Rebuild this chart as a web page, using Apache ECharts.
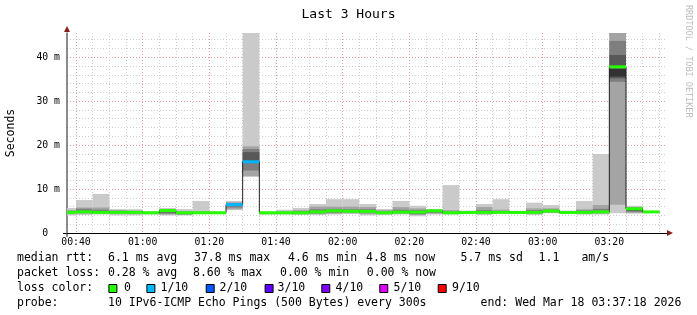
<!DOCTYPE html>
<html><head><meta charset="utf-8">
<script src="https://cdn.jsdelivr.net/npm/echarts@6/dist/echarts.min.js"></script>
<style>html,body{margin:0;padding:0;background:#fff}#c{width:697px;height:315px}</style>
</head><body><div id="c"></div>
<script>
// ---- data (times are bin END times, each bin = one 300 s probe step) ----
const graphStart = '00:37:18';
const graphEnd = '03:37:18';
const stepMinutes = 5;
const binEnd = ['00:40','00:45','00:50','00:55','01:00','01:05','01:10','01:15','01:20','01:25','01:30','01:35',
  '01:40','01:45','01:50','01:55','02:00','02:05','02:10','02:15','02:20','02:25','02:30','02:35',
  '02:40','02:45','02:50','02:55','03:00','03:05','03:10','03:15','03:20','03:25','03:30','03:35'];
// sorted ping RTTs (ms) per bin, rank 1 (fastest) .. rank 10 (slowest)
const ping1  = [4.0,4.1,4.2,4.0,4.0,4.2,4.0,4.0,4.3,4.4,5.2,12.8,4.2,4.2,4.1,4.1,4.2,4.3,4.0,4.1,4.2,3.8,4.2,4.2,4.4,4.1,4.3,4.4,4.1,4.5,4.4,4.2,4.2,4.5,4.4,4.6];
const ping2  = [4.3,4.4,4.4,4.3,4.3,4.35,4.2,4.1,4.4,4.5,5.4,12.9,4.3,4.3,4.3,4.3,4.4,4.5,4.3,4.3,4.4,4.1,4.4,4.3,4.5,4.3,4.4,4.5,4.3,4.6,4.5,4.3,4.4,6.4,4.6,4.65];
const ping3  = [4.5,4.6,4.5,4.5,4.5,4.45,4.4,4.3,4.5,4.55,5.8,14.2,4.4,4.35,4.4,4.5,4.6,4.7,4.5,4.4,4.5,4.3,4.6,4.4,4.55,4.45,4.5,4.55,4.45,4.75,4.55,4.45,4.55,34.4,4.8,4.7];
const ping4  = [4.6,4.7,4.6,4.6,4.6,4.5,4.7,4.4,4.55,4.6,6.2,15.9,4.45,4.4,4.5,4.6,4.8,4.8,4.7,4.5,4.6,4.5,4.8,4.5,4.6,4.55,4.6,4.6,4.55,4.85,4.6,4.55,4.65,35.2,5.0,4.72];
const ping5  = [4.65,4.75,4.65,4.65,4.65,4.55,5.0,4.5,4.6,4.6,6.4,16.05,4.55,4.5,4.55,4.75,5.0,4.9,4.85,4.55,4.7,4.7,5.0,4.55,4.65,4.65,4.65,4.65,4.65,4.95,4.65,4.65,4.75,35.6,5.3,4.75];
const ping6  = [4.75,4.85,4.75,4.75,4.7,4.6,5.1,4.6,4.65,4.65,6.5,16.4,4.6,4.6,4.65,4.85,5.1,5.0,4.95,4.65,4.8,4.8,5.1,4.65,4.7,4.75,4.75,4.7,4.75,5.05,4.7,4.75,4.85,37.3,5.5,4.78];
const ping7  = [4.85,5.0,4.9,4.85,4.8,4.65,5.2,4.65,4.7,4.7,6.6,18.4,4.65,4.65,4.75,5.0,5.2,5.1,5.1,4.75,4.9,4.9,5.15,4.75,4.75,4.85,4.85,4.75,4.9,5.15,4.8,4.9,5.0,40.5,5.6,4.8];
const ping8  = [5.0,5.5,5.3,5.0,4.9,4.7,5.3,4.8,4.8,4.75,6.8,19.1,4.7,4.75,4.9,5.4,5.5,5.4,5.4,4.9,5.3,5.2,5.2,4.9,4.85,5.2,5.0,4.85,5.2,5.3,4.9,5.1,5.5,43.7,5.8,4.82];
const ping9  = [5.2,5.8,5.8,5.2,5.1,4.8,5.4,5.0,4.9,4.8,7.0,19.7,4.75,4.9,5.2,6.0,6.0,6.0,5.9,5.2,5.9,5.6,5.3,5.2,4.95,5.9,5.3,4.95,5.6,5.6,5.0,5.4,6.36,48,5.9,4.85];
const ping10 = [5.7,7.5,8.9,5.45,5.4,4.9,5.7,5.45,7.3,4.9,7.3,48,4.85,5.3,5.7,6.6,7.7,7.7,6.6,5.45,7.3,6.2,5.45,10.9,5.1,6.6,7.7,5.07,6.9,6.36,5.1,7.3,17.95,48,6.2,4.9];
const medianRtt = [4.7,4.8,4.7,4.7,4.7,4.6,5.1,4.6,4.6,4.6,6.45,16.2,4.6,4.6,4.6,4.8,5.05,4.95,4.9,4.6,4.75,4.75,5.05,4.6,4.65,4.7,4.7,4.65,4.7,5.0,4.65,4.7,4.8,37.8,5.5,4.8];
const lossTenths = [0,0,0,0,0,0,0,0,0,0,1,1,0,0,0,0,0,0,0,0,0,0,0,0,0,0,0,0,0,0,0,0,0,0,0,0];
const xTickLabels = ['00:40','01:00','01:20','01:40','02:00','02:20','02:40','03:00','03:20'];
const yTickLabels = {0:'0  ', 10:'10 m', 20:'20 m', 30:'30 m', 40:'40 m'};
const yMax = 45.5;
const lossLevels = ['0','1/10','2/10','3/10','4/10','5/10','9/10'];
const lossColors = {0:'#26ff00',1:'#00b8ff',2:'#0059ff',3:'#5e00ff',4:'#7e00ff',5:'#dd00ff',9:'#ff0000'};
const smokeShades = ['#cacaca','#a4a4a4','#7e7e7e','#585858','#323232'];
const legendRows = [
  [['median rtt:',17],['6.1 ms avg',108],['37.8 ms max',194],['4.6 ms min',288],['4.8 ms now',366],['5.7 ms sd',460.5],['1.1',538.6],['am/s',581.4]],
  [['packet loss:',17],['0.28 % avg',108],['8.60 % max',193],['0.00 % min',280],['0.00 % now',366.8]],
  [['loss color:',17]],
  [['probe:',17],['10 IPv6-ICMP Echo Pings (500 Bytes) every 300s',108],['end: Wed Mar 18 03:37:18 2026',480.6]]
];
const lossLegendX = [[108.4,124],[146.4,160.6],[205.7,219.5],[264.6,277.6],[321.3,335.6],[379.3,393.6],[437.7,452]];

// ---- helpers ----
const MONO = "'DejaVu Sans Mono', monospace";
function toMin(s){ const p = s.split(':').map(Number); return p[0]*60 + p[1] + (p[2]||0)/60; }
function lbl(v){ for (const t of xTickLabels) if (Math.abs(toMin(t)-v) < 1e-6) return t; return ''; }
const pings = [ping1,ping2,ping3,ping4,ping5,ping6,ping7,ping8,ping9,ping10];
const data = binEnd.map((t,i)=>[toMin(t)].concat(pings.map(a=>a[i]), [medianRtt[i], lossTenths[i]]));
const xMin = toMin(graphStart), xMax = toMin(graphEnd);

function clipX(x, cs){ return Math.max(cs.x, Math.min(cs.x+cs.width, x)); }
function clipY(y, cs){ return Math.max(cs.y, Math.min(cs.y+cs.height, y)); }

function renderSmoke(params, api){
  const cs = params.coordSys, end = api.value(0), start = end - stepMinutes;
  const xL = api.coord([start,0])[0], xR = api.coord([end,0])[0];
  const children = [];
  for (let k=0;k<5;k++){
    const lo = api.value(1+k), hi = api.value(10-k);
    const yLo = api.coord([end,lo])[1], yHi = api.coord([end,hi])[1];
    const r = echarts.graphic.clipRectByRect({x:xL, y:yHi, width:xR-xL, height:yLo-yHi}, cs);
    if (r) children.push({type:'rect', shape:r, style:{fill:smokeShades[k]}});
  }
  return {type:'group', children};
}
function renderMedian(params, api){
  const cs = params.coordSys, i = params.dataIndex, end = api.value(0), start = end - stepMinutes;
  const xL = clipX(api.coord([start,0])[0], cs), xR = clipX(api.coord([end,0])[0], cs);
  const y = clipY(api.coord([end, api.value(11)])[1], cs);
  const pts = [];
  if (i > 0) pts.push([xL, clipY(api.coord([end, medianRtt[i-1]])[1], cs)]);
  pts.push([xL, y], [xR, y]);
  return {type:'polyline', shape:{points:pts}, style:{stroke:'#202020', lineWidth:1, fill:null}};
}
function renderLoss(params, api){
  const cs = params.coordSys, end = api.value(0), start = end - stepMinutes;
  const xL = clipX(api.coord([start,0])[0], cs), xR = clipX(api.coord([end,0])[0], cs);
  const y = api.coord([end, api.value(11)])[1];
  return {type:'rect', shape:{x:xL, y:y-1.5, width:xR-xL, height:3}, style:{fill:lossColors[api.value(12)]}};
}

// ---- graphics: legend text, swatches, arrows, watermark ----
const graphic = [];
const rowY = [258, 273.3, 288.5, 303.5];
legendRows.forEach((row, r)=> row.forEach(([t,x])=> graphic.push({type:'text', x, y:rowY[r], silent:true,
  style:{text:t, font:'11.5px '+MONO, fill:'#000', textAlign:'left', textVerticalAlign:'middle'}})));
lossLevels.forEach((lv, j)=>{
  const [bx, tx] = lossLegendX[j];
  graphic.push({type:'rect', silent:true, shape:{x:bx+0.5, y:284.5, width:8, height:8}, style:{fill:lossColors[parseInt(lv)], stroke:'#000', lineWidth:1}});
  graphic.push({type:'text', x:tx, y:rowY[2], silent:true, style:{text:lv, font:'11.5px '+MONO, fill:'#000', textAlign:'left', textVerticalAlign:'middle'}});
});
graphic.push({type:'polygon', silent:true, shape:{points:[[667,230],[673,233],[667,236]]}, style:{fill:'#8b1e1e'}});
graphic.push({type:'polygon', silent:true, shape:{points:[[64,32],[67,26],[70,32]]}, style:{fill:'#8b1e1e'}});
graphic.push({type:'line', silent:true, shape:{x1:63, y1:233.5, x2:67, y2:233.5}, style:{stroke:'#000', lineWidth:1}});
graphic.push({type:'line', silent:true, shape:{x1:67, y1:233, x2:67, y2:237}, style:{stroke:'#666', lineWidth:1.5}});
graphic.push({type:'text', x:688, y:5, rotation:-Math.PI/2, silent:true,
  style:{text:'RRDTOOL / TOBI OETIKER', font:'8.5px '+MONO, fill:'#bdbdbd', textAlign:'left', textVerticalAlign:'middle'}});

const chart = echarts.init(document.getElementById('c'), null, {renderer:'canvas', width:697, height:315});
chart.setOption({
  animation:false,
  backgroundColor:'#ffffff',
  title:{text:'Last 3 Hours', left:'center', top:8, padding:0,
    textStyle:{fontFamily:MONO, fontSize:13, fontWeight:'normal', color:'#000'}},
  grid:{left:67, right:30, top:33, bottom:82, containLabel:false, outerBoundsMode:'none'},
  xAxis:{type:'value', min:xMin, max:xMax, splitNumber:9, minInterval:20, maxInterval:20,
    axisLine:{show:true, onZero:false, lineStyle:{color:'#000', width:1}},
    axisTick:{show:false},
    axisLabel:{formatter:lbl, margin:4, fontFamily:MONO, fontSize:9.8, color:'#000', showMinLabel:false, showMaxLabel:false},
    splitLine:{show:true, showMinLine:false, showMaxLine:false, lineStyle:{color:'#e59a9a', type:[1,2], width:1}},
    minorTick:{show:false, splitNumber:4},
    minorSplitLine:{show:true, lineStyle:{color:'#cfcfcf', type:[1,2], width:1}}},
  yAxis:{type:'value', min:0, max:yMax, interval:10,
    axisLine:{show:true, onZero:false, lineStyle:{color:'#666', width:1.5}},
    axisTick:{show:false},
    axisLabel:{formatter:v=>yTickLabels[v]!==undefined?yTickLabels[v]:'', margin:7, fontFamily:MONO, fontSize:9.8, color:'#000', showMaxLabel:false},
    splitLine:{show:true, showMinLine:false, showMaxLine:false, lineStyle:{color:'#e59a9a', type:[1,2], width:1}},
    minorTick:{show:false, splitNumber:5},
    minorSplitLine:{show:true, lineStyle:{color:'#cfcfcf', type:[1,2], width:1}},
    name:'Seconds', nameLocation:'middle', nameGap:49.5, nameRotate:90,
    nameTextStyle:{fontFamily:MONO, fontSize:11.5, color:'#000'}},
  series:[
    {type:'custom', name:'smoke', data, renderItem:renderSmoke, encode:{x:0, y:11}, z:2, silent:true},
    {type:'custom', name:'median', data, renderItem:renderMedian, encode:{x:0, y:11}, z:3, silent:true},
    {type:'custom', name:'loss', data, renderItem:renderLoss, encode:{x:0, y:11}, z:4, silent:true}
  ],
  graphic
});
</script></body></html>
